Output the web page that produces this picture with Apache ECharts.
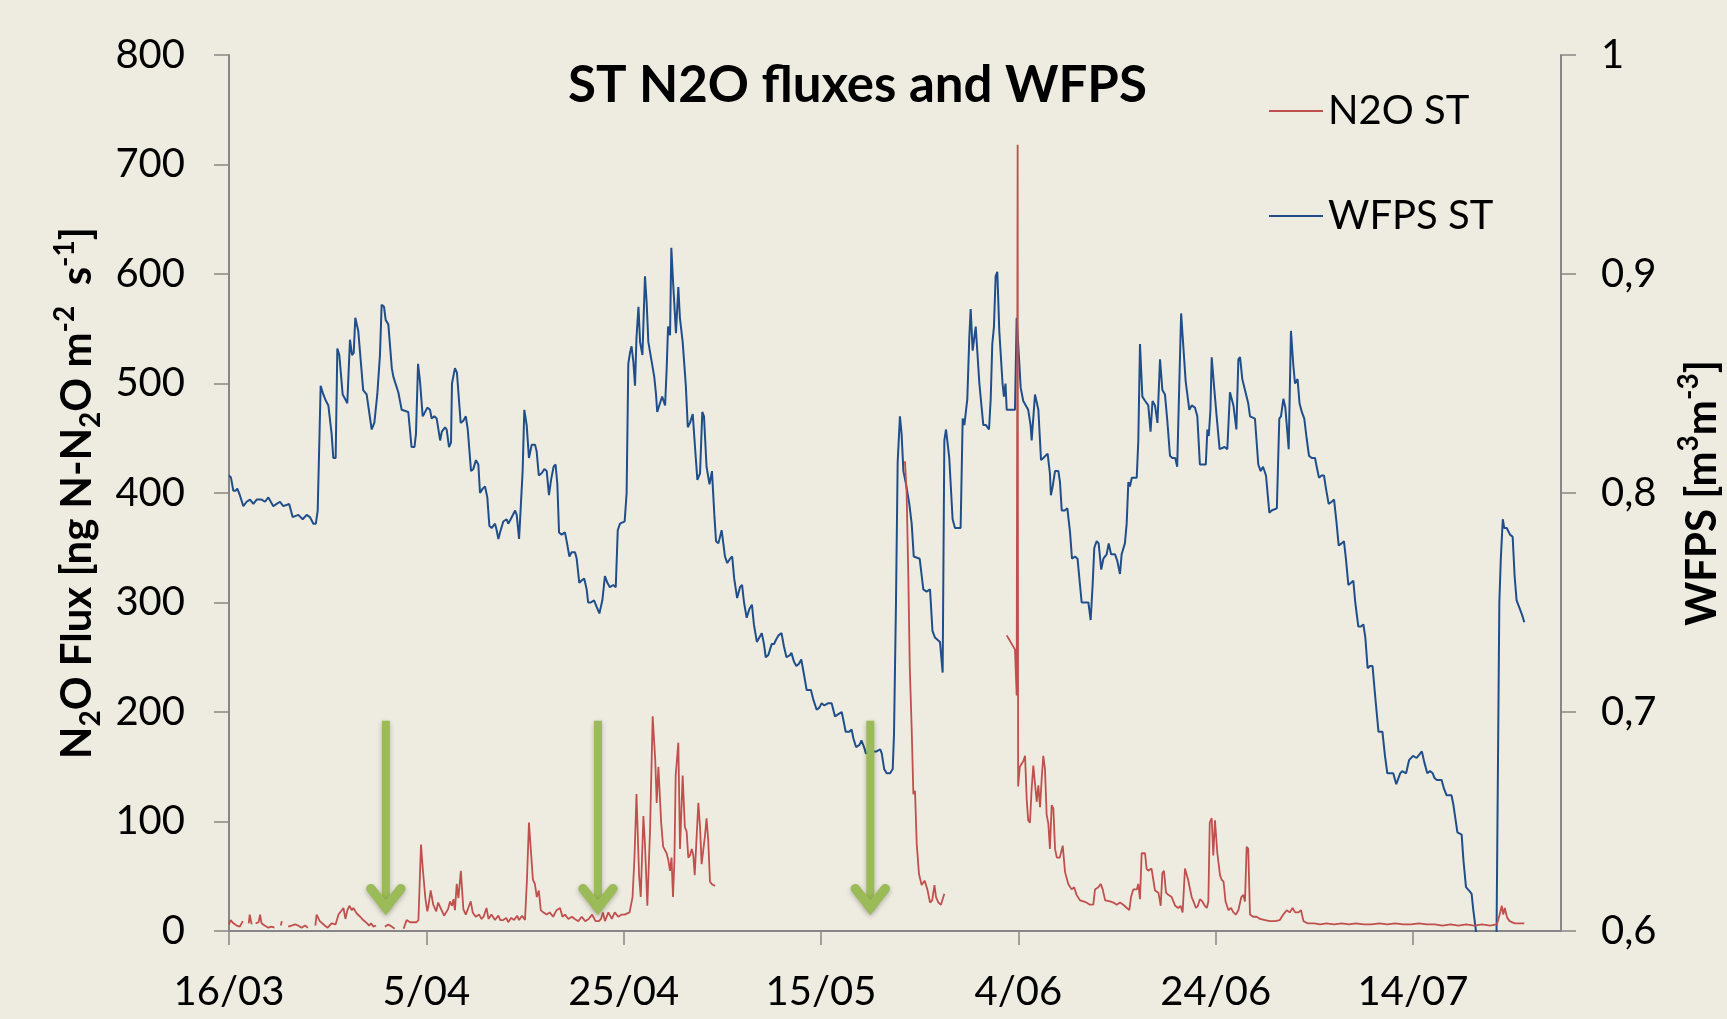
<!DOCTYPE html>
<html>
<head>
<meta charset="utf-8">
<script src="https://cdn.jsdelivr.net/npm/echarts@6/dist/echarts.min.js"></script>
<style>
html,body{margin:0;padding:0;background:#EEECE1;overflow:hidden;}
#chart{width:1727px;height:1019px;}
</style>
</head>
<body>
<div id="chart"></div>
<script>
// x values are days since 16/03
const xTickDays = [0, 20, 40, 60, 80, 100, 120];
const xTickLabels = ['16/03', '5/04', '25/04', '15/05', '4/06', '24/06', '14/07'];
const rightTickValues = [0.6, 0.7, 0.8, 0.9, 1.0];
const rightTickLabels = ['0,6', '0,7', '0,8', '0,9', '1'];

const wfpsDay = [0,0.2,0.44,0.65,0.84,1.1,1.45,1.79,2.13,2.47,2.8,3.3,3.65,3.99,4.49,4.83,5.17,5.5,6.1,6.45,7.03,7.47,7.87,8.2,8.55,8.8,8.99,9.29,9.56,9.83,10.07,10.4,10.57,10.81,10.98,11.18,11.52,11.76,11.99,12.26,12.47,12.64,12.8,13.1,13.6,13.95,14.46,14.73,15.03,15.3,15.47,15.71,15.88,16.15,16.5,16.66,17.16,17.5,18.17,18.5,18.8,18.95,19.16,19.36,19.63,19.76,20.1,20.37,20.54,20.81,21.05,21.4,21.57,21.9,22.06,22.3,22.5,22.6,22.9,23.1,23.48,23.75,24.0,24.2,24.53,24.76,25.03,25.27,25.44,25.71,25.95,26.18,26.39,26.62,26.96,27.13,27.3,27.47,27.8,28.14,28.3,28.55,29.0,29.16,29.4,29.6,29.76,29.93,30.17,30.4,30.68,31.02,31.18,31.4,31.69,31.96,32.2,32.43,32.64,32.9,33.1,33.28,33.45,33.72,34.05,34.22,34.5,34.73,35.07,35.24,35.5,35.74,36.0,36.25,36.4,36.66,37.0,37.26,37.54,37.7,37.84,38.1,38.35,38.6,38.95,39.2,39.4,39.63,40.1,40.3,40.47,40.64,40.8,40.98,41.15,41.3,41.5,41.66,41.9,42.16,42.33,42.5,42.84,43.1,43.28,43.4,43.68,43.9,44.2,44.36,44.5,44.7,44.83,45.0,45.3,45.54,45.7,45.98,46.3,46.5,46.72,47.0,47.23,47.47,47.74,47.97,48.14,48.4,48.7,48.95,49.19,49.36,49.6,49.93,50.27,50.5,50.78,51.0,51.2,51.5,51.79,52.0,52.2,52.47,52.74,53.0,53.2,53.5,53.75,54.0,54.22,54.4,54.66,55.0,55.24,55.44,55.7,56.0,56.24,56.5,56.86,57.0,57.26,57.5,57.77,58.0,58.28,58.55,58.98,59.2,59.56,59.83,60.07,60.34,60.74,61.08,61.42,61.76,62.1,62.33,62.5,62.87,63.1,63.28,63.55,63.9,64.1,64.36,64.56,64.9,65.1,65.64,66.0,66.16,66.4,66.66,67.0,67.27,67.4,67.6,67.77,68.0,68.17,68.35,68.62,68.95,69.19,69.4,70.0,70.37,70.7,71.05,71.3,71.55,72.06,72.33,72.5,72.67,73.0,73.34,73.58,74.15,74.36,74.53,74.83,75.03,75.17,75.37,75.68,75.88,76.05,76.45,76.72,77.03,77.2,77.36,77.53,77.7,77.87,78.07,78.4,78.54,78.7,78.82,79.22,79.66,79.83,80.0,80.24,80.5,81.0,81.24,81.35,81.52,81.69,82.03,82.3,82.53,82.97,83.2,83.3,83.48,83.72,84.06,84.22,84.4,84.7,84.97,85.24,85.44,85.74,86.0,86.25,86.42,86.76,87.1,87.33,87.53,87.7,87.94,88.14,88.4,88.62,88.95,89.16,89.4,89.8,90.03,90.3,90.47,90.8,90.98,91.15,91.31,91.5,92.0,92.16,92.33,92.57,92.85,93.17,93.4,93.6,93.85,94.1,94.36,94.6,94.86,95.1,95.37,95.6,95.9,96.1,96.32,96.5,96.72,96.96,97.33,97.57,97.9,98.14,98.4,98.75,99.0,99.16,99.3,99.47,99.6,99.83,100.1,100.4,100.9,101.18,101.45,101.8,102.1,102.3,102.47,102.7,102.97,103.3,103.48,103.98,104.32,104.56,104.8,105.1,105.44,105.67,106.2,106.45,106.62,106.86,107.06,107.26,107.4,107.63,107.86,108.04,108.2,108.3,108.5,108.73,108.98,109.22,109.46,109.73,110.07,110.24,110.47,110.74,110.98,111.18,111.45,111.76,112.0,112.26,112.47,112.77,113.0,113.2,113.45,113.72,113.95,114.15,114.46,114.73,114.97,115.17,115.4,115.64,115.9,116.15,116.5,116.9,117.16,117.4,118.0,118.3,118.7,118.9,119.3,119.6,120.0,120.37,120.9,121.15,121.45,121.72,122.0,122.16,122.4,122.9,123.14,123.4,123.9,124.08,124.5,124.93,125.1,125.37,125.77,125.94,126.1,126.38,126.8,127.6,128.45,128.75,128.9,129.1,129.25,129.5,129.83,130.1,130.3,130.5,130.84,131.08,131.28];
const wfpsVal = [0.808,0.807,0.801,0.801,0.802,0.799,0.794,0.796,0.797,0.795,0.797,0.797,0.796,0.798,0.794,0.795,0.796,0.794,0.795,0.789,0.790,0.788,0.790,0.789,0.786,0.786,0.792,0.849,0.845,0.842,0.840,0.827,0.816,0.816,0.866,0.863,0.845,0.843,0.841,0.870,0.863,0.864,0.880,0.874,0.847,0.845,0.829,0.832,0.845,0.863,0.886,0.885,0.879,0.877,0.857,0.853,0.846,0.838,0.837,0.821,0.821,0.827,0.859,0.851,0.835,0.836,0.839,0.838,0.834,0.835,0.834,0.824,0.828,0.830,0.829,0.821,0.823,0.850,0.857,0.855,0.832,0.833,0.835,0.829,0.810,0.811,0.815,0.813,0.800,0.802,0.803,0.798,0.785,0.784,0.786,0.783,0.779,0.782,0.787,0.788,0.786,0.788,0.792,0.790,0.779,0.779,0.810,0.838,0.831,0.816,0.822,0.822,0.819,0.808,0.809,0.811,0.810,0.799,0.806,0.812,0.813,0.804,0.782,0.781,0.782,0.778,0.771,0.773,0.773,0.770,0.759,0.760,0.761,0.756,0.750,0.750,0.751,0.748,0.745,0.745,0.751,0.762,0.759,0.757,0.758,0.757,0.783,0.786,0.787,0.800,0.859,0.864,0.867,0.860,0.849,0.871,0.885,0.869,0.863,0.899,0.887,0.869,0.860,0.853,0.845,0.837,0.841,0.844,0.840,0.857,0.876,0.872,0.912,0.897,0.873,0.894,0.880,0.869,0.849,0.830,0.832,0.836,0.821,0.806,0.809,0.837,0.835,0.812,0.804,0.810,0.790,0.778,0.777,0.783,0.771,0.768,0.770,0.771,0.761,0.752,0.757,0.758,0.750,0.743,0.747,0.749,0.740,0.732,0.734,0.736,0.731,0.725,0.726,0.731,0.731,0.733,0.735,0.736,0.730,0.725,0.726,0.727,0.723,0.721,0.722,0.724,0.717,0.710,0.710,0.706,0.701,0.702,0.704,0.703,0.704,0.704,0.698,0.699,0.700,0.695,0.691,0.691,0.692,0.688,0.684,0.685,0.687,0.684,0.681,0.682,0.682,0.682,0.683,0.681,0.674,0.672,0.672,0.674,0.690,0.750,0.814,0.835,0.827,0.810,0.804,0.795,0.786,0.771,0.770,0.756,0.755,0.756,0.737,0.734,0.732,0.718,0.824,0.829,0.816,0.788,0.784,0.784,0.834,0.831,0.843,0.871,0.884,0.865,0.876,0.862,0.850,0.831,0.831,0.829,0.843,0.868,0.876,0.899,0.901,0.874,0.850,0.844,0.850,0.838,0.838,0.838,0.880,0.867,0.848,0.842,0.838,0.831,0.824,0.824,0.845,0.838,0.815,0.816,0.818,0.809,0.799,0.803,0.810,0.810,0.805,0.792,0.792,0.793,0.782,0.770,0.771,0.770,0.758,0.750,0.750,0.750,0.742,0.758,0.775,0.778,0.777,0.765,0.770,0.772,0.777,0.772,0.772,0.769,0.763,0.772,0.777,0.786,0.805,0.803,0.807,0.807,0.824,0.868,0.844,0.842,0.840,0.828,0.842,0.840,0.832,0.861,0.847,0.845,0.833,0.817,0.816,0.816,0.812,0.851,0.882,0.867,0.851,0.838,0.840,0.839,0.835,0.813,0.813,0.813,0.829,0.826,0.838,0.862,0.849,0.835,0.820,0.821,0.820,0.846,0.840,0.829,0.861,0.862,0.852,0.847,0.841,0.835,0.834,0.813,0.810,0.812,0.808,0.791,0.792,0.793,0.834,0.835,0.843,0.839,0.828,0.820,0.874,0.859,0.850,0.850,0.852,0.841,0.837,0.834,0.825,0.817,0.816,0.816,0.812,0.807,0.808,0.808,0.802,0.795,0.796,0.797,0.786,0.776,0.777,0.778,0.770,0.758,0.759,0.760,0.750,0.739,0.739,0.740,0.734,0.720,0.721,0.721,0.708,0.691,0.691,0.680,0.672,0.672,0.667,0.672,0.673,0.672,0.678,0.680,0.679,0.682,0.677,0.672,0.673,0.672,0.670,0.669,0.669,0.665,0.662,0.662,0.658,0.645,0.644,0.633,0.620,0.618,0.617,0.610,0.600,0.585,0.578,0.590,0.750,0.770,0.788,0.784,0.784,0.781,0.780,0.762,0.751,0.747,0.744,0.741];

const n2oDay = [0,0.17,0.45,0.78,1.1,1.4,1.5,2.0,2.1,2.3,2.5,2.7,3.0,3.15,3.3,3.6,4.0,4.3,4.6,4.8,5.25,5.35,5.45,6.0,6.35,6.7,7.0,7.35,7.7,8.0,8.3,8.75,8.88,9.2,9.4,9.7,10.0,10.4,10.8,11.1,11.6,11.8,12.0,12.2,12.45,12.6,12.95,13.3,13.6,14.0,14.2,14.4,14.65,14.9,15.0,15.8,16.15,16.5,16.8,17.0,17.7,18.0,18.35,18.7,19.0,19.2,19.46,19.63,19.9,20.1,20.2,20.44,20.7,21.0,21.2,21.5,21.8,22.2,22.4,22.6,22.75,22.9,23.08,23.25,23.5,23.75,24.0,24.25,24.5,24.7,25.0,25.35,25.6,25.8,26.1,26.3,26.6,26.95,27.3,27.5,27.8,28.1,28.3,28.6,28.9,29.2,29.4,29.7,30.0,30.2,30.4,30.6,30.8,31.0,31.2,31.4,31.6,31.85,32.2,32.5,32.85,33.2,33.55,33.8,34.05,34.4,34.75,35.05,35.4,35.75,36.1,36.45,36.8,37.15,37.5,37.7,37.9,38.1,38.45,38.8,39.1,39.45,39.8,40.1,40.6,40.9,41.1,41.3,41.56,41.73,42.0,42.16,42.4,42.67,42.94,43.2,43.35,43.52,43.8,44.0,44.35,44.52,44.7,44.85,45.0,45.14,45.27,45.54,45.71,45.98,46.2,46.38,46.55,46.72,46.9,47.06,47.2,47.4,47.57,47.74,47.9,48.07,48.24,48.4,48.57,48.75,48.92,49.1,49.26,49.4,68.51,68.68,68.85,69.0,69.19,69.36,69.53,69.7,69.93,70.2,70.5,70.78,71.05,71.27,71.5,71.66,71.9,72.16,72.5,72.6,78.82,79.15,79.66,79.83,79.93,79.98,80.15,80.34,80.5,80.68,80.85,81.0,81.18,81.35,81.52,81.69,81.86,82.03,82.2,82.36,82.53,82.7,82.87,83.04,83.2,83.38,83.55,83.72,83.9,84.2,84.5,84.73,85.06,85.4,85.66,85.9,86.25,86.6,86.9,87.25,87.6,87.77,88.1,88.34,88.55,88.8,89.3,89.64,89.97,90.3,90.64,91.0,91.25,91.42,91.65,92.0,92.16,92.33,92.5,92.6,92.84,93.0,93.17,93.5,93.85,94.2,94.43,94.6,94.76,94.97,95.2,95.54,95.9,96.2,96.45,96.65,96.89,97.2,97.57,97.75,98.0,98.2,98.4,98.65,98.9,99.1,99.26,99.4,99.6,99.76,99.93,100.17,100.44,100.6,100.8,101.0,101.3,101.55,101.8,102.05,102.3,102.6,102.8,102.97,103.14,103.3,103.48,103.8,104.15,104.5,105.0,105.5,106.0,106.5,106.85,107.2,107.5,107.8,108.05,108.4,108.65,108.9,109.3,110.0,110.6,111.2,112.0,112.8,113.5,114.2,115.0,115.8,116.6,117.4,118.2,119.0,119.8,120.6,121.4,122.2,123.0,123.8,124.6,125.4,126.2,127.0,127.8,128.5,128.75,129.0,129.15,129.3,129.55,129.8,130.3,130.8,131.28];
const n2oVal = [6,10,7,5,4,9,null,7,15,6,null,7,8,15,7,5,3,4,3,null,5,9,null,4,5,6,5,3,5,3,null,5,15,9,10,5,3,7,6,15,21,11,19,23,19,21,16,13,10,7,5,7,4,5,null,4,6,4,2,null,2,10,8,8,8,10,79,58,30,18,22,37,24,18,26,20,14,20,27,23,29,19,43,30,55,20,15,21,27,17,13,15,11,13,21,11,15,10,14,10,10,12,8,12,10,14,10,14,10,47,99,99,47,43,31,37,19,17,15,17,13,19,21,13,15,11,13,11,9,13,9,11,15,9,9,11,17,9,17,11,17,13,15,15,17,31,68,125,51,31,105,79,23,91,196,156,117,150,99,77,71,65,55,67,31,63,142,172,75,142,95,91,67,69,75,69,51,87,117,95,61,61,87,103,83,45,43,43,41,null,429,400,324,240,185,125,128,80,52,42,46,38,26,28,42,31,26,24,34,null,270,265,257,215,718,132,150,150,155,160,120,101,99,130,151,150,118,133,113,138,160,148,106,98,75,115,112,75,67,67,78,54,43,38,40,33,28,27,26,24,24,38,40,43,38,28,27,26,24,26,24,21,19,31,38,38,43,29,71,71,71,57,55,57,37,35,23,53,55,35,33,31,23,21,23,17,57,47,31,27,21,23,29,27,23,21,27,99,103,69,101,71,51,47,45,27,19,21,17,15,19,31,33,27,77,75,15,13,13,11,10,9,9,10,15,19,17,21,17,17,19,9,7,7,6,7,6,7,6,7,6,6,7,6,7,6,6,7,6,6,5,6,5,6,5,6,5,6,14,23,15,21,12,9,7,7,7];

// annotation arrows (day, top flux, tip flux)
const arrowDays = [15.9, 37.4, 65.0];
const arrowTop = 192;
const arrowTip = 14;

const FONT = 'Lato';

const wfpsData = wfpsDay.map((d, i) => [d, wfpsVal[i]]);
const n2oData = n2oDay.map((d, i) => [d, n2oVal[i] === null ? '-' : n2oVal[i]]);
const arrowData = arrowDays.map(d => [d, arrowTop, arrowTip]);

const chart = echarts.init(document.getElementById('chart'));
const axisGrey = '#868686';

const option = {
  backgroundColor: '#EEECE1',
  animation: false,
  title: {
    text: 'ST N2O fluxes and WFPS',
    left: 563,
    top: 55,
    textStyle: { fontFamily: FONT, fontWeight: 'bold', fontSize: 51, color: '#000' }
  },
  legend: {
    data: ['N2O ST', 'WFPS ST'],
    orient: 'vertical',
    left: 1264,
    top: 86,
    itemGap: 65,
    itemWidth: 54,
    itemHeight: 2,
    icon: 'rect',
    textStyle: { fontFamily: FONT, fontSize: 40, color: '#000' }
  },
  grid: { left: 229, right: 166, top: 55, bottom: 88, containLabel: false, outerBoundsMode: 'none' },
  xAxis: {
    type: 'value',
    min: 0,
    max: 135,
    interval: 20,
    splitLine: { show: false },
    axisLine: { show: true, onZero: false, lineStyle: { color: axisGrey, width: 2 } },
    axisTick: { show: true, length: 14, customValues: xTickDays, lineStyle: { color: axisGrey, width: 1.5 } },
    axisLabel: {
      customValues: xTickDays,
      margin: 41,
      fontFamily: FONT, fontSize: 40, color: '#000',
      formatter: v => { const i = xTickDays.indexOf(v); return i >= 0 ? xTickLabels[i] : ''; }
    }
  },
  yAxis: [
    {
      type: 'value',
      min: 0, max: 800, interval: 100,
      splitLine: { show: false },
      axisLine: { show: true, lineStyle: { color: axisGrey, width: 2 } },
      axisTick: { show: true, length: 15, lineStyle: { color: axisGrey, width: 1.5 } },
      axisLabel: { margin: 44, fontFamily: FONT, fontSize: 40, color: '#000' },
      name: '{a|N}{s|2}{a|O Flux [ng N-N}{s|2}{a|O m}{p|-2}{a|  s}{p|-1}{a|]}',
      nameLocation: 'middle',
      nameGap: 124,
      nameRotate: 90,
      nameTextStyle: {
        rich: {
          a: { fontFamily: FONT, fontWeight: 'bold', fontSize: 42, lineHeight: 54, color: '#000' },
          s: { fontFamily: FONT, fontWeight: 'bold', fontSize: 28, lineHeight: 28, verticalAlign: 'bottom', color: '#000' },
          p: { fontFamily: FONT, fontWeight: 'bold', fontSize: 28, lineHeight: 28, verticalAlign: 'top', color: '#000' }
        }
      }
    },
    {
      type: 'value',
      position: 'right',
      min: 0.6, max: 1.0, interval: 0.1,
      splitLine: { show: false },
      axisLine: { show: true, lineStyle: { color: axisGrey, width: 2 } },
      axisTick: { show: true, length: 15, lineStyle: { color: axisGrey, width: 1.5 } },
      axisLabel: {
        margin: 40, fontFamily: FONT, fontSize: 40, color: '#000',
        formatter: v => {
          let best = 0;
          rightTickValues.forEach((t, i) => { if (Math.abs(t - v) < Math.abs(rightTickValues[best] - v)) best = i; });
          return rightTickLabels[best];
        }
      },
      name: '{a|WFPS [m}{p|3}{a|m}{p|-3}{a|]}',
      nameLocation: 'middle',
      nameGap: 114,
      nameRotate: 90,
      nameTextStyle: {
        rich: {
          a: { fontFamily: FONT, fontWeight: 'bold', fontSize: 42, lineHeight: 54, color: '#000' },
          p: { fontFamily: FONT, fontWeight: 'bold', fontSize: 28, lineHeight: 28, verticalAlign: 'top', color: '#000' }
        }
      }
    }
  ],
  series: [
    {
      name: 'WFPS ST',
      type: 'line',
      yAxisIndex: 1,
      data: wfpsData,
      showSymbol: false,
      symbol: 'none',
      clip: true,
      lineStyle: { color: '#1F4E8A', width: 2 },
      itemStyle: { color: '#1F4E8A' },
      z: 2
    },
    {
      name: 'N2O ST',
      type: 'line',
      yAxisIndex: 0,
      data: n2oData,
      showSymbol: false,
      symbol: 'none',
      connectNulls: false,
      clip: true,
      lineStyle: { color: '#C0504D', width: 1.8 },
      itemStyle: { color: '#C0504D' },
      z: 3
    },
    {
      name: 'arrows',
      type: 'custom',
      yAxisIndex: 0,
      silent: true,
      z: 4,
      encode: { x: 0, y: [1, 2] },
      data: arrowData,
      renderItem: (params, api) => {
        const top = api.coord([api.value(0), api.value(1)]);
        const tip = api.coord([api.value(0), api.value(2)]);
        const hw = 15, hh = 27, back = 8;
        const col = '#9BBB59';
        const shadow = { shadowBlur: 5, shadowColor: 'rgba(0,0,0,0.25)', shadowOffsetY: 2 };
        return {
          type: 'group',
          children: [
            { type: 'line', shape: { x1: top[0], y1: top[1], x2: tip[0], y2: tip[1] - back },
              style: Object.assign({ stroke: col, lineWidth: 8 }, shadow) },
            { type: 'polyline', shape: { points: [[tip[0] - hw, tip[1] - hh], [tip[0], tip[1] - back], [tip[0] + hw, tip[1] - hh]] },
              style: Object.assign({ stroke: col, lineWidth: 9.5, fill: null, lineJoin: 'miter', lineCap: 'round' }, shadow) }
          ]
        };
      }
    }
  ]
};
chart.setOption(option);
</script>
</body>
</html>
